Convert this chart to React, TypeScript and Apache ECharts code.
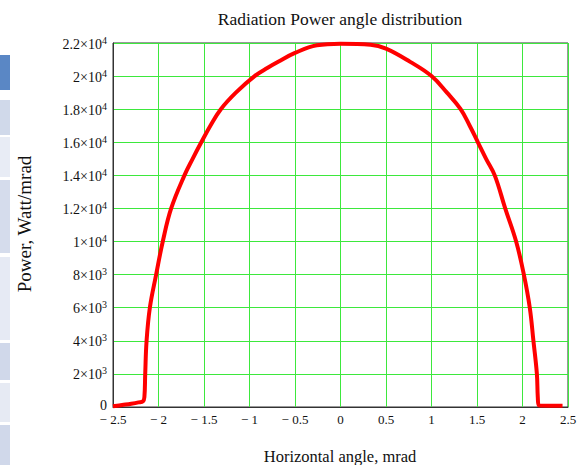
import React, { useEffect, useRef } from "react";
import * as echarts from "echarts";

const angles = [
  -2.5, -2.4, -2.3, -2.22, -2.17, -2.155, -2.146, -2.131, -2.095, -2.026, -1.953, -1.861,
  -1.715, -1.625, -1.53, -1.43, -1.315, -1.15, -0.944, -0.8, -0.685, -0.5, -0.26,
  0, 0.33, 0.5, 0.766, 1.0, 1.17, 1.32, 1.42, 1.51, 1.6, 1.695, 1.81, 1.93,
  2.015, 2.08, 2.12, 2.158, 2.168, 2.18, 2.3, 2.44,
];
const power = [
  40, 120, 200, 280, 350, 600, 2000, 4000, 6000, 8000, 10000, 12000,
  14000, 15000, 16000, 17000, 18000, 19000, 20000, 20500, 20860, 21400, 21860,
  21960, 21900, 21660, 20860, 20000, 19000, 18000, 17000, 16000, 15000, 14000, 12000, 10000,
  8000, 6000, 4000, 2000, 600, 100, 80, 80,
];

const yTickLabels: Record<number, [string, string]> = {
  0: ["0", ""],
  2000: ["2×10", "3"],
  4000: ["4×10", "3"],
  6000: ["6×10", "3"],
  8000: ["8×10", "3"],
  10000: ["1×10", "4"],
  12000: ["1.2×10", "4"],
  14000: ["1.4×10", "4"],
  16000: ["1.6×10", "4"],
  18000: ["1.8×10", "4"],
  20000: ["2×10", "4"],
  22000: ["2.2×10", "4"],
};

const titleText = "Radiation Power angle distribution";
const xName = "Horizontal angle, mrad";
const yName = "Power, Watt/mrad";

const sideBars: [number, number, string][] = [
  [55, 90, "#5a87c5"],
  [100, 135, "#d0d9ea"],
  [137, 177, "#e8ecf5"],
  [180, 253, "#d5dcec"],
  [257, 340, "#e6eaf4"],
  [343, 380, "#d0d8ea"],
  [383, 422, "#e6eaf3"],
  [425, 465, "#d0d8ea"],
];

const serif = "'Liberation Serif', 'Times New Roman', serif";

export default function App() {
  const ref = useRef<HTMLDivElement>(null);
  useEffect(() => {
    if (!ref.current) return;
    const chart = echarts.init(ref.current, undefined, { renderer: "svg" });
    chart.setOption({
      animation: false,
      backgroundColor: "#ffffff",
      textStyle: { fontFamily: serif },
      graphic: [
        ...sideBars.map(([y0, y1, c]) => ({
          type: "rect",
          shape: { x: 0, y: y0, width: 10, height: y1 - y0 },
          style: { fill: c },
          silent: true,
        })),
        {
          type: "text",
          x: 340,
          y: 19,
          style: {
            text: titleText,
            font: `17.5px ${serif}`,
            fill: "#111",
            align: "center",
            verticalAlign: "middle",
          },
        },
        {
          type: "text",
          x: 340,
          y: 456,
          style: {
            text: xName,
            font: `16.5px ${serif}`,
            fill: "#111",
            align: "center",
            verticalAlign: "middle",
          },
        },
        {
          type: "text",
          x: 24,
          y: 224,
          rotation: Math.PI / 2,
          style: {
            text: yName,
            font: `19px ${serif}`,
            fill: "#111",
            align: "center",
            verticalAlign: "middle",
          },
        },
      ],
      grid: {
        left: 113,
        right: 12,
        top: 43,
        bottom: 58,
        show: true,
        borderColor: "#333",
        borderWidth: 1,
        containLabel: false,
      },
      xAxis: {
        type: "value",
        min: -2.5,
        max: 2.5,
        interval: 0.5,
        axisLine: { show: true, onZero: false, lineStyle: { color: "#333", width: 1 } },
        axisTick: { show: false },
        splitLine: { show: true, lineStyle: { color: "#3de83d", width: 1 } },
        axisLabel: {
          margin: 6,
          fontFamily: serif,
          fontSize: 13,
          color: "#111",
          formatter: (v: number) => (v < 0 ? "\u2212 " + String(-v) : String(v)),
        },
      },
      yAxis: {
        type: "value",
        min: 0,
        max: 22000,
        interval: 2000,
        axisLine: { show: true, onZero: false, lineStyle: { color: "#333", width: 1 } },
        axisTick: { show: false },
        splitLine: { show: true, lineStyle: { color: "#3de83d", width: 1 } },
        axisLabel: {
          margin: 6,
          fontFamily: serif,
          color: "#111",
          formatter: (v: number) => {
            const l = yTickLabels[v];
            if (!l) return "";
            return l[1] ? `{m|${l[0]}}{s|${l[1]}}` : `{z|${l[0]}}`;
          },
          rich: {
            m: { fontFamily: serif, fontSize: 14, color: "#111", lineHeight: 16, verticalAlign: "bottom" },
            s: { fontFamily: serif, fontSize: 10, color: "#111", lineHeight: 16, verticalAlign: "top", padding: [0, 0, 6, 0] },
            z: { fontFamily: serif, fontSize: 14, color: "#111", lineHeight: 16, padding: [0, 0, 4, 0] },
          },
        },
      },
      series: [
        {
          type: "line",
          data: angles.map((a, i) => [a, power[i]]),
          showSymbol: false,
          symbol: "none",
          smooth: 0.4,
          lineStyle: { color: "#ff0000", width: 4, join: "round" },
          itemStyle: { color: "#ff0000" },
          clip: false,
        },
      ],
    });
    return () => chart.dispose();
  }, []);
  return (
    <div
      ref={ref}
      style={{ position: "absolute", left: 0, top: 0, width: 580, height: 465 }}
    />
  );
}
